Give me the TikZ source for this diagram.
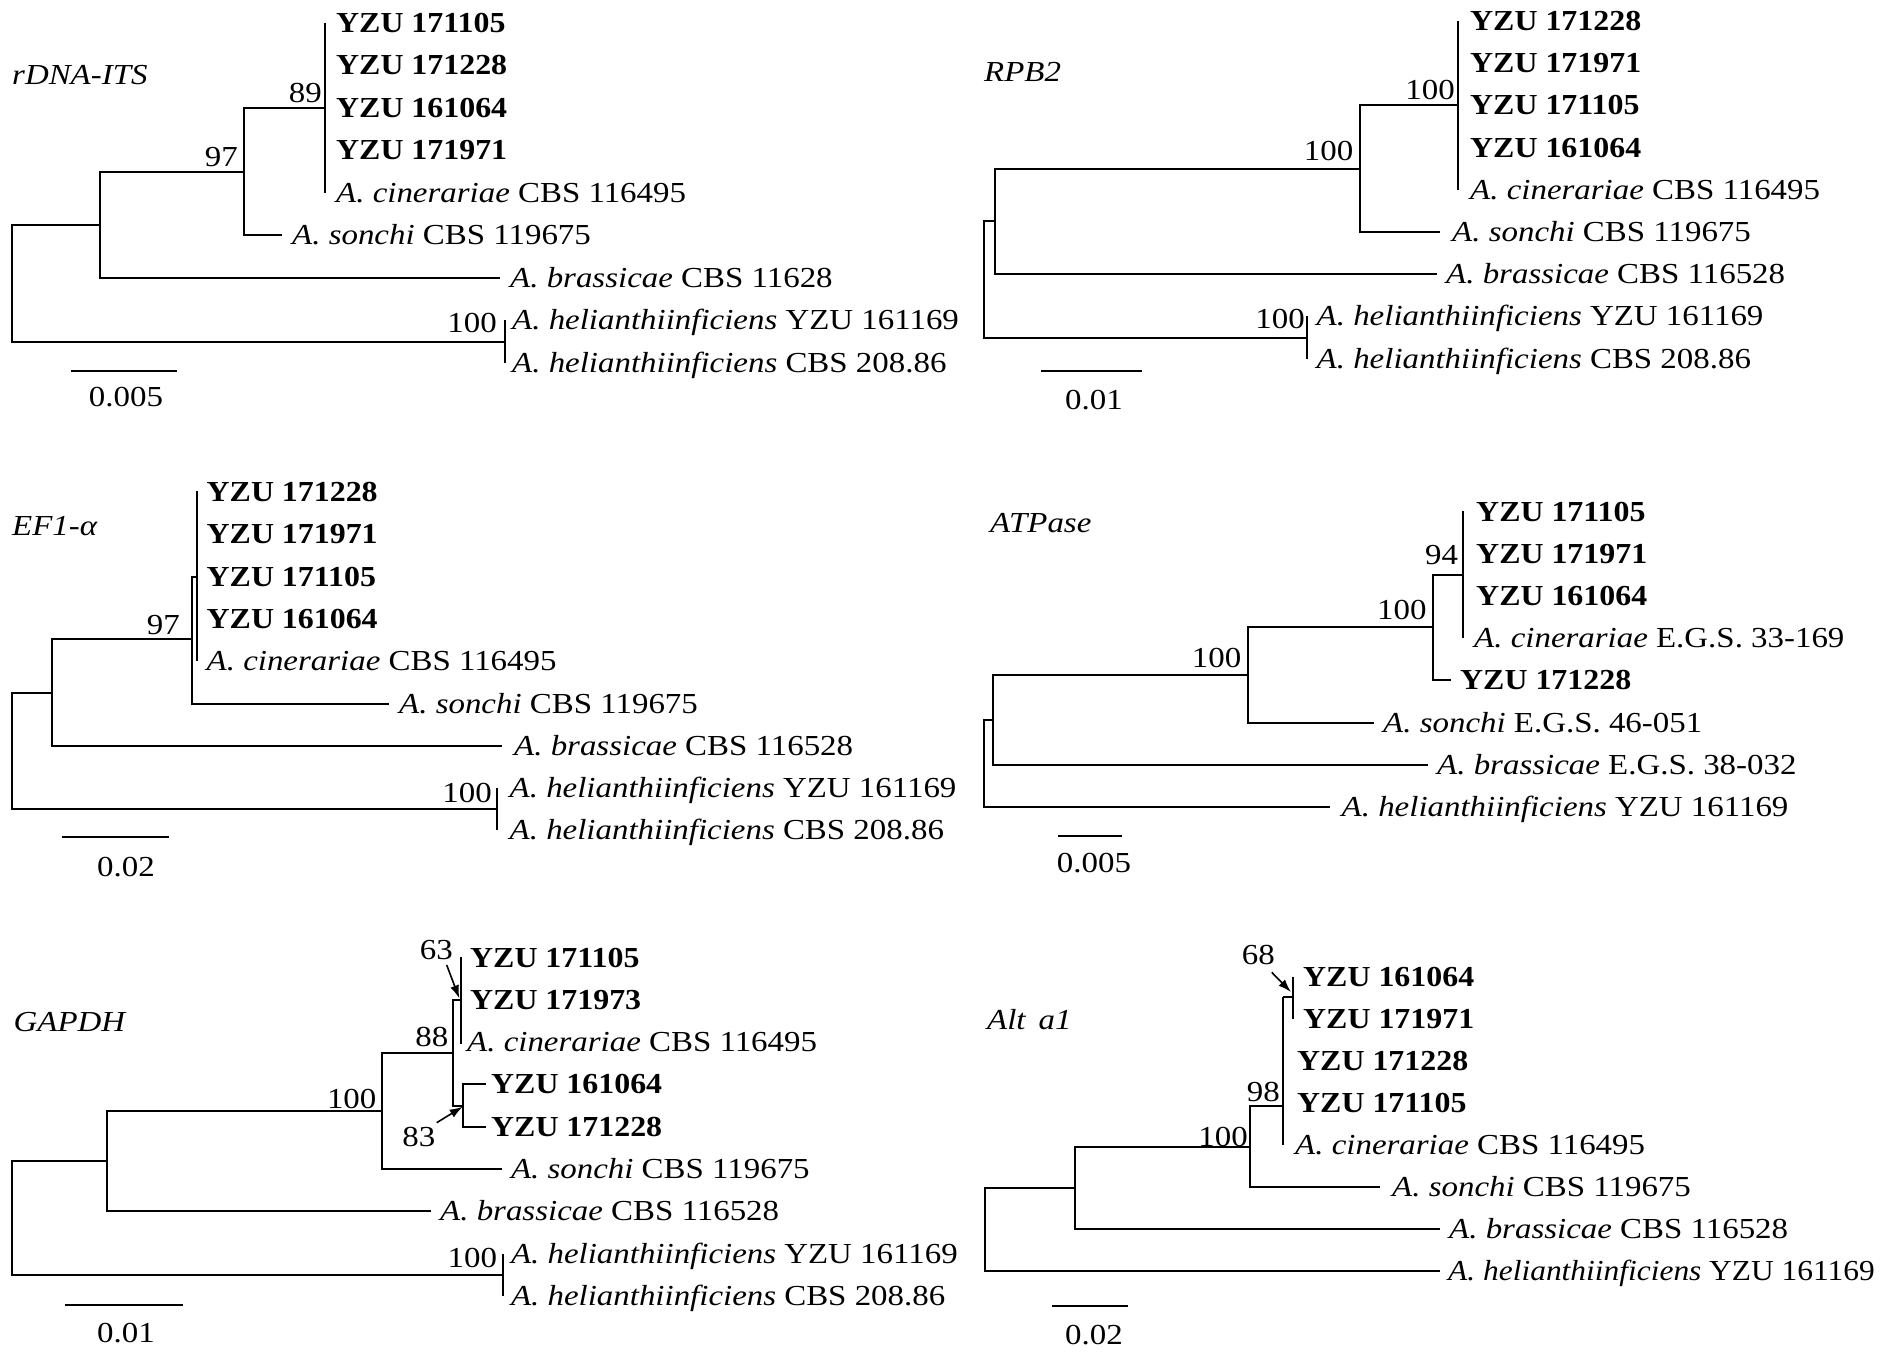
\documentclass[tikz,border=0pt]{standalone}
\usepackage{fontspec}
\setmainfont{Liberation Serif}[FakeStretch=1.135, BoldFeatures={FakeStretch=1.10}, ItalicFeatures={FakeStretch=1.135}]
\usetikzlibrary{arrows.meta}
\tikzset{
  br/.style={line width=2pt, line join=miter},
  txt/.style={inner sep=0pt, font=\fontsize{29}{34}\selectfont},
  tip/.style={txt, anchor=base west},
  bsv/.style={txt, anchor=base east},
  ttl/.style={txt, anchor=base west, font=\fontsize{29}{34}\selectfont\itshape},
  sbl/.style={txt, anchor=base},
  arr/.style={line width=1.6pt, -{Latex[length=13pt,width=9pt]}}
}
\begin{document}
\begin{tikzpicture}[x=1pt,y=-1pt]
\useasboundingbox (0,0) rectangle (1890,1356);

%% ================= Panel 1: rDNA-ITS =================
\node[ttl] (t1) at (12,84.5) {rDNA-ITS};
\coordinate (p1root) at (12,283.5);
\coordinate (p1A) at (100,225);
\coordinate (p1B) at (244,171.75);
\coordinate (p1C) at (325,108);
\coordinate (p1Ct) at (325,23);
\coordinate (p1Cb) at (325,193);
\coordinate (p1son) at (282,235.5);
\coordinate (p1bra) at (500,278);
\coordinate (p1D) at (505,342);
\coordinate (p1Dt) at (505,320.5);
\coordinate (p1Db) at (505,363);
\draw[br] (p1root) |- (p1A);
\draw[br] (p1root) |- (p1D);
\draw[br] (p1A) |- (p1B);
\draw[br] (p1A) |- (p1bra);
\draw[br] (p1B) |- (p1C);
\draw[br] (p1B) |- (p1son);
\draw[br] (p1Ct) -- (p1Cb);
\draw[br] (p1Dt) -- (p1Db);
\node[tip] (n1a) at (336,32.5) {\textbf{YZU 171105}};
\node[tip] (n1b) at (336,75) {\textbf{YZU 171228}};
\node[tip] (n1c) at (336,117.5) {\textbf{YZU 161064}};
\node[tip] (n1d) at (336,160) {\textbf{YZU 171971}};
\node[tip] (n1e) at (336,202.5) {\textit{A. cinerariae} CBS 116495};
\node[tip] (n1f) at (292,245) {\textit{A. sonchi} CBS 119675};
\node[tip] (n1g) at (510,287.5) {\textit{A. brassicae} CBS 11628};
\node[tip] (n1h) at (512,330) {\textit{A. helianthiinficiens} YZU 161169};
\node[tip] (n1i) at (512,372.5) {\textit{A. helianthiinficiens} CBS 208.86};
\node[bsv] (s1a) at (322,102.5) {89};
\node[bsv] (s1b) at (238,166.5) {97};
\node[bsv] (s1c) at (497,332.5) {100};
\coordinate (sb1l) at (70.5,371);
\coordinate (sb1r) at (177,371);
\draw[br] (sb1l) -- (sb1r);
\node[sbl] (sb1t) at (126,406.5) {0.005};

%% ================= Panel 2: RPB2 =================
\node[ttl] (t2) at (984,81.5) {RPB2};
\coordinate (p2root) at (984,279.5);
\coordinate (p2A) at (995,221.45);
\coordinate (p2B) at (1359.5,168.7);
\coordinate (p2C) at (1458,105.4);
\coordinate (p2Ct) at (1458,21);
\coordinate (p2Cb) at (1458,189.8);
\coordinate (p2son) at (1440,232);
\coordinate (p2bra) at (1437,274.2);
\coordinate (p2D) at (1307,337.5);
\coordinate (p2Dt) at (1307,316.4);
\coordinate (p2Db) at (1307,358.6);
\draw[br] (p2root) |- (p2A);
\draw[br] (p2root) |- (p2D);
\draw[br] (p2A) |- (p2B);
\draw[br] (p2A) |- (p2bra);
\draw[br] (p2B) |- (p2C);
\draw[br] (p2B) |- (p2son);
\draw[br] (p2Ct) -- (p2Cb);
\draw[br] (p2Dt) -- (p2Db);
\node[tip] (n2a) at (1470,30.5) {\textbf{YZU 171228}};
\node[tip] (n2b) at (1470,72.7) {\textbf{YZU 171971}};
\node[tip] (n2c) at (1470,114.9) {\textbf{YZU 171105}};
\node[tip] (n2d) at (1470,157.1) {\textbf{YZU 161064}};
\node[tip] (n2e) at (1470,199.3) {\textit{A. cinerariae} CBS 116495};
\node[tip] (n2f) at (1452,241.5) {\textit{A. sonchi} CBS 119675};
\node[tip] (n2g) at (1446,283.7) {\textit{A. brassicae} CBS 116528};
\node[tip] (n2h) at (1316.5,325.9) {\textit{A. helianthiinficiens} YZU 161169};
\node[tip] (n2i) at (1316.5,368.1) {\textit{A. helianthiinficiens} CBS 208.86};
\node[bsv] (s2a) at (1455,99.5) {100};
\node[bsv] (s2b) at (1353.5,161) {100};
\node[bsv] (s2c) at (1305,328.5) {100};
\coordinate (sb2l) at (1040.5,371);
\coordinate (sb2r) at (1142,371);
\draw[br] (sb2l) -- (sb2r);
\node[sbl] (sb2t) at (1094,409.5) {0.01};

%% ================= Panel 3: EF1-alpha =================
\node[ttl] (t3) at (12,535.5) {EF1-α};
\coordinate (p3root) at (12,751);
\coordinate (p3A) at (52,692.9);
\coordinate (p3B) at (192.3,638.5);
\coordinate (p3C) at (196.7,576.6);
\coordinate (p3Ct) at (196.7,491);
\coordinate (p3Cb) at (196.7,661.2);
\coordinate (p3son) at (389,703.5);
\coordinate (p3bra) at (501.5,745.8);
\coordinate (p3D) at (497,809.25);
\coordinate (p3Dt) at (497,788.1);
\coordinate (p3Db) at (497,830.4);
\draw[br] (p3root) |- (p3A);
\draw[br] (p3root) |- (p3D);
\draw[br] (p3A) |- (p3B);
\draw[br] (p3A) |- (p3bra);
\draw[br] (p3B) |- (p3C);
\draw[br] (p3B) |- (p3son);
\draw[br] (p3Ct) -- (p3Cb);
\draw[br] (p3Dt) -- (p3Db);
\node[tip] (n3a) at (206.5,501.5) {\textbf{YZU 171228}};
\node[tip] (n3b) at (206.5,543.8) {\textbf{YZU 171971}};
\node[tip] (n3c) at (206.5,586.1) {\textbf{YZU 171105}};
\node[tip] (n3d) at (206.5,628.4) {\textbf{YZU 161064}};
\node[tip] (n3e) at (206.5,670.7) {\textit{A. cinerariae} CBS 116495};
\node[tip] (n3f) at (399,713) {\textit{A. sonchi} CBS 119675};
\node[tip] (n3g) at (514,755.3) {\textit{A. brassicae} CBS 116528};
\node[tip] (n3h) at (509.5,797.6) {\textit{A. helianthiinficiens} YZU 161169};
\node[tip] (n3i) at (509.5,839.9) {\textit{A. helianthiinficiens} CBS 208.86};
\node[bsv] (s3a) at (180,634.5) {97};
\node[bsv] (s3b) at (492,802.5) {100};
\coordinate (sb3l) at (61.5,836.7);
\coordinate (sb3r) at (169,836.7);
\draw[br] (sb3l) -- (sb3r);
\node[sbl] (sb3t) at (126,876.2) {0.02};

%% ================= Panel 4: ATPase =================
\node[ttl] (t4) at (990,532.5) {ATPase};
\coordinate (p4root) at (984,763.4);
\coordinate (p4A) at (993,719.9);
\coordinate (p4B) at (1248,675);
\coordinate (p4C) at (1433.3,626.5);
\coordinate (p4E) at (1463.3,574.8);
\coordinate (p4Et) at (1463.3,511);
\coordinate (p4Eb) at (1463.3,637.5);
\coordinate (p4y28) at (1450.7,680.3);
\coordinate (p4son) at (1374,722.5);
\coordinate (p4bra) at (1428,764.7);
\coordinate (p4hel) at (1330,806.9);
\draw[br] (p4root) |- (p4A);
\draw[br] (p4root) |- (p4hel);
\draw[br] (p4A) |- (p4B);
\draw[br] (p4A) |- (p4bra);
\draw[br] (p4B) |- (p4C);
\draw[br] (p4B) |- (p4son);
\draw[br] (p4C) |- (p4E);
\draw[br] (p4C) |- (p4y28);
\draw[br] (p4Et) -- (p4Eb);
\node[tip] (n4a) at (1476,521) {\textbf{YZU 171105}};
\node[tip] (n4b) at (1476,563.2) {\textbf{YZU 171971}};
\node[tip] (n4c) at (1476,605.4) {\textbf{YZU 161064}};
\node[tip] (n4d) at (1474,647.6) {\textit{A. cinerariae} E.G.S. 33-169};
\node[tip] (n4e) at (1460,689.8) {\textbf{YZU 171228}};
\node[tip] (n4f) at (1383,732) {\textit{A. sonchi} E.G.S. 46-051};
\node[tip] (n4g) at (1437,774.2) {\textit{A. brassicae} E.G.S. 38-032};
\node[tip] (n4h) at (1341.5,816.4) {\textit{A. helianthiinficiens} YZU 161169};
\node[bsv] (s4a) at (1458.3,564.5) {94};
\node[bsv] (s4b) at (1426.7,619.5) {100};
\node[bsv] (s4c) at (1241.5,667.5) {100};
\coordinate (sb4l) at (1058,836);
\coordinate (sb4r) at (1122,836);
\draw[br] (sb4l) -- (sb4r);
\node[sbl] (sb4t) at (1094,872.5) {0.005};

%% ================= Panel 5: GAPDH =================
\node[ttl] (t5) at (13.5,1031.2) {GAPDH};
\coordinate (p5root) at (12,1218);
\coordinate (p5A) at (106.5,1161);
\coordinate (p5B) at (381.5,1110.7);
\coordinate (p5C) at (453.3,1052.5);
\coordinate (p5E) at (461,999.8);
\coordinate (p5Et) at (461,957);
\coordinate (p5Eb) at (461,1044);
\coordinate (p5F) at (463.3,1105.5);
\coordinate (p5f1) at (486,1084.4);
\coordinate (p5f2) at (486,1126.7);
\coordinate (p5son) at (501.5,1169);
\coordinate (p5bra) at (430.8,1211.3);
\coordinate (p5D) at (503.4,1274.8);
\coordinate (p5Dt) at (503.4,1253.6);
\coordinate (p5Db) at (503.4,1295.9);
\draw[br] (p5root) |- (p5A);
\draw[br] (p5root) |- (p5D);
\draw[br] (p5A) |- (p5B);
\draw[br] (p5A) |- (p5bra);
\draw[br] (p5B) |- (p5C);
\draw[br] (p5B) |- (p5son);
\draw[br] (p5C) |- (p5E);
\draw[br] (p5C) |- (p5F);
\draw[br] (p5F) |- (p5f1);
\draw[br] (p5F) |- (p5f2);
\draw[br] (p5Et) -- (p5Eb);
\draw[br] (p5Dt) -- (p5Db);
\node[tip] (n5a) at (470,967) {\textbf{YZU 171105}};
\node[tip] (n5b) at (470,1009.3) {\textbf{YZU 171973}};
\node[tip] (n5c) at (467,1051.6) {\textit{A. cinerariae} CBS 116495};
\node[tip] (n5d) at (491,1093.9) {\textbf{YZU 161064}};
\node[tip] (n5e) at (491,1136.2) {\textbf{YZU 171228}};
\node[tip] (n5f) at (510.8,1178.5) {\textit{A. sonchi} CBS 119675};
\node[tip] (n5g) at (440,1220.8) {\textit{A. brassicae} CBS 116528};
\node[tip] (n5h) at (510.8,1263.1) {\textit{A. helianthiinficiens} YZU 161169};
\node[tip] (n5i) at (510.8,1305.4) {\textit{A. helianthiinficiens} CBS 208.86};
\node[bsv] (s5a) at (453,959.5) {63};
\node[bsv] (s5b) at (448.5,1046.5) {88};
\node[bsv] (s5c) at (435.5,1146.5) {83};
\node[bsv] (s5d) at (376.6,1108.5) {100};
\node[bsv] (s5e) at (497.2,1267.2) {100};
\coordinate (a63s) at (446.7,965);
\coordinate (a63e) at (459.3,998.3);
\coordinate (a83s) at (436.7,1122.7);
\coordinate (a83e) at (462.7,1106.7);
\draw[arr] (a63s) -- (a63e);
\draw[arr] (a83s) -- (a83e);
\coordinate (sb5l) at (64.6,1305);
\coordinate (sb5r) at (182.8,1305);
\draw[br] (sb5l) -- (sb5r);
\node[sbl] (sb5t) at (126,1342.8) {0.01};

%% ================= Panel 6: Alt a1 =================
\node[ttl] (t6) at (987,1029.5) {Alt\hspace{0.45em}a1};
\coordinate (p6root) at (985,1229.35);
\coordinate (p6A) at (1074.5,1187.5);
\coordinate (p6B) at (1250,1146.7);
\coordinate (p6C) at (1283.3,1106);
\coordinate (p6Ct) at (1283.3,997);
\coordinate (p6Cb) at (1283.3,1144.9);
\coordinate (p6E) at (1292.7,997);
\coordinate (p6Et) at (1292.7,976.5);
\coordinate (p6Eb) at (1292.7,1018.6);
\coordinate (p6son) at (1380,1187);
\coordinate (p6bra) at (1440,1229.1);
\coordinate (p6hel) at (1440,1271.2);
\draw[br] (p6root) |- (p6A);
\draw[br] (p6root) |- (p6hel);
\draw[br] (p6A) |- (p6B);
\draw[br] (p6A) |- (p6bra);
\draw[br] (p6B) |- (p6C);
\draw[br] (p6B) |- (p6son);
\draw[br] (p6Ct) -- (p6Cb);
\draw[br] (p6Ct) -- (p6E);
\draw[br] (p6Et) -- (p6Eb);
\node[tip] (n6a) at (1303,986) {\textbf{YZU 161064}};
\node[tip] (n6b) at (1303,1028.1) {\textbf{YZU 171971}};
\node[tip] (n6c) at (1297,1070.2) {\textbf{YZU 171228}};
\node[tip] (n6d) at (1297,1112.3) {\textbf{YZU 171105}};
\node[tip] (n6e) at (1295,1154.4) {\textit{A. cinerariae} CBS 116495};
\node[tip] (n6f) at (1392,1196.5) {\textit{A. sonchi} CBS 119675};
\node[tip] (n6g) at (1449,1238.6) {\textit{A. brassicae} CBS 116528};
\node[tip] (n6h) at (1448,1280.7) {\scalebox{0.955}[1]{\textit{A. helianthiinficiens} YZU 161169}};
\node[bsv] (s6a) at (1275,964.5) {68};
\node[bsv] (s6b) at (1280,1101.5) {98};
\node[bsv] (s6c) at (1248,1146.2) {100};
\coordinate (a68s) at (1271.7,972.3);
\coordinate (a68e) at (1291,992);
\draw[arr] (a68s) -- (a68e);
\coordinate (sb6l) at (1052.4,1306);
\coordinate (sb6r) at (1128,1306);
\draw[br] (sb6l) -- (sb6r);
\node[sbl] (sb6t) at (1094,1344.5) {0.02};
\end{tikzpicture}
\end{document}
